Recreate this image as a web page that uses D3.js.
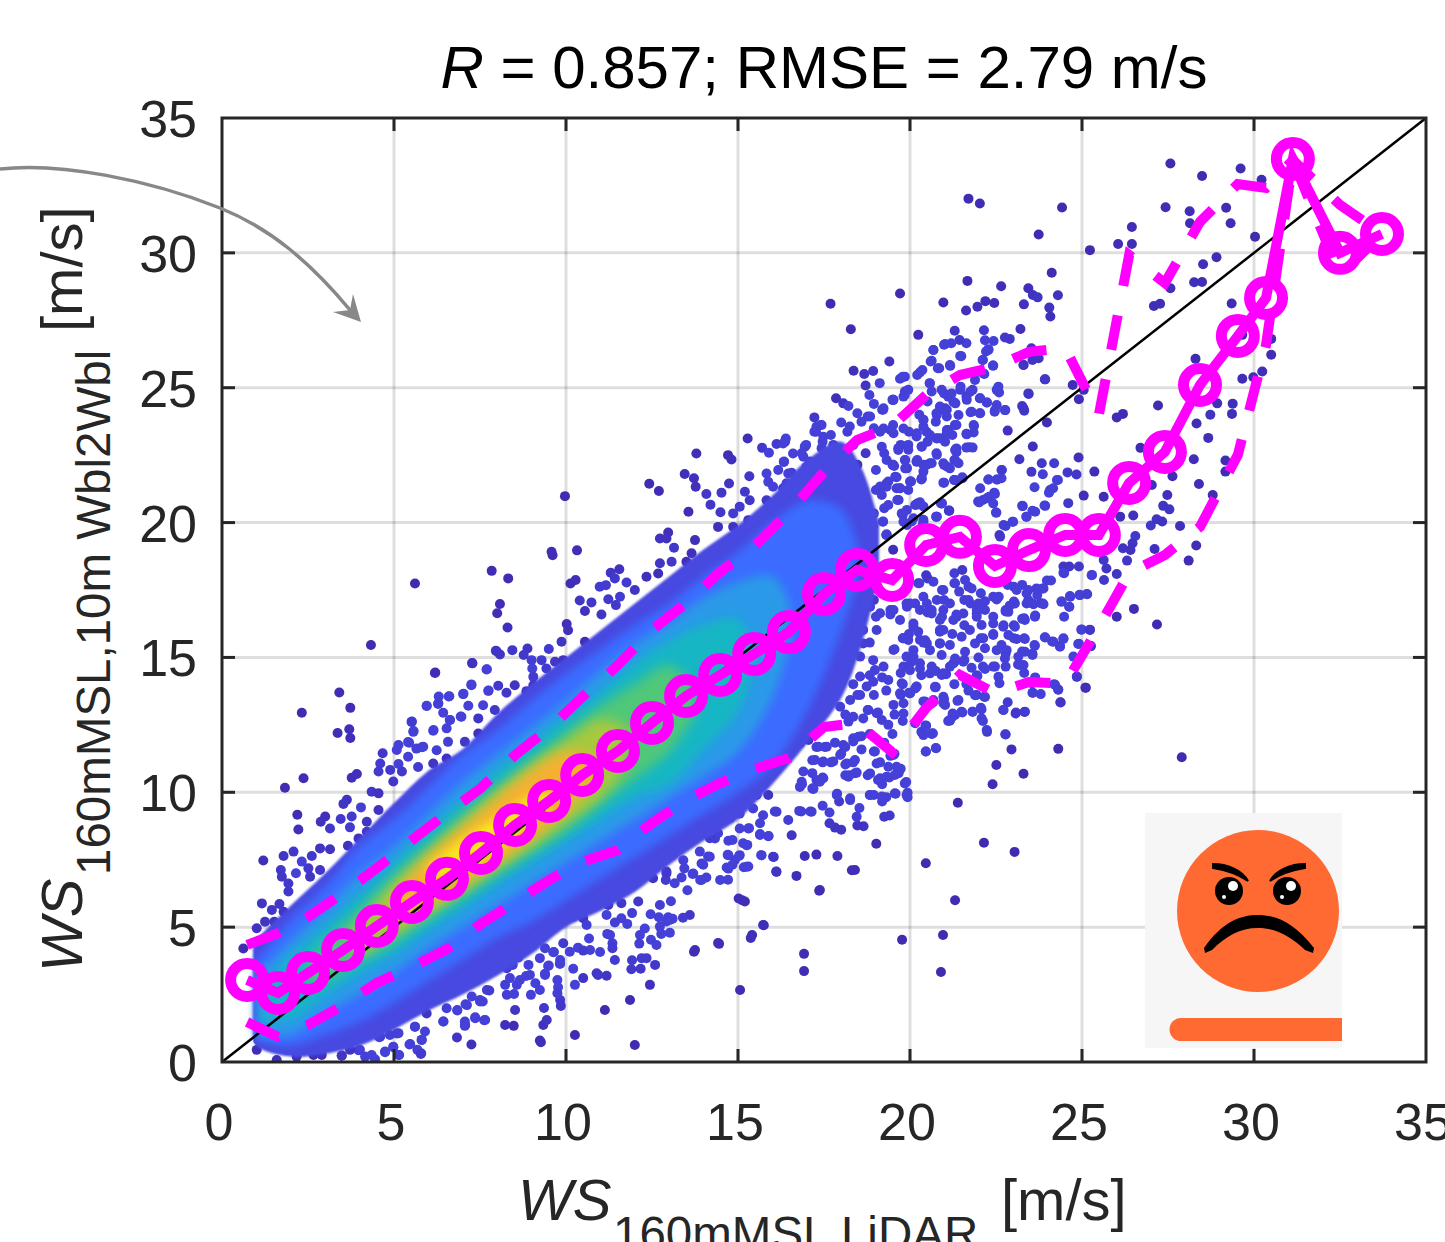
<!DOCTYPE html>
<html><head><meta charset="utf-8">
<script src="https://cdn.jsdelivr.net/npm/d3@7"></script>
<style>html,body{margin:0;padding:0;background:#fff;overflow:hidden}svg{display:block}text{font-family:"Liberation Sans",Arial,sans-serif}</style>
</head><body><div id="c"></div>
<script>
// ---- data (m/s) ----
const xTicks=[0,5,10,15,20,25,30,35];
const yTicks=[0,5,10,15,20,25,30,35];
const binX=[0.73,1.63,2.5,3.52,4.5,5.52,6.54,7.53,8.52,9.51,10.47,11.51,12.5,13.49,14.48,15.47,16.48,17.5,18.46,19.48,20.47,21.45,22.47,23.46,24.51,25.49,26.37,27.41,28.43,29.53,30.35,31.13,32.5,33.72];
const meanY=[3.04,2.56,3.3,4.15,5.04,5.93,6.79,7.75,8.79,9.68,10.64,11.53,12.57,13.57,14.35,15.13,15.94,17.35,18.24,17.87,19.17,19.47,18.39,18.98,19.54,19.54,21.47,22.62,25.1,26.92,28.33,33.48,30.0,30.7];
const upperY=[4.34,4.78,5.38,6.27,7.19,8.23,9.23,10.16,11.38,12.38,13.53,14.72,16.02,17.02,18.17,19.13,20.39,21.88,23.06,23.58,24.73,25.47,25.77,26.33,26.47,23.99,29.92,28.88,31.15,32.55,32.41,33.44,31.78,30.7];
const lowerY=[1.48,0.93,1.37,2.11,2.93,3.52,4.19,5.12,5.93,6.75,7.42,7.86,8.86,9.71,10.34,10.86,11.27,12.42,12.57,11.49,13.13,14.35,13.68,14.09,14.02,16.13,18.13,18.8,19.84,22.51,26.59,33.44,29.18,30.7];
// density bands: [x, low, high]
const bandViolet=[[0.9,1.2,4.2],[1,0.6,4.5],[2,0.2,5.8],[3,0.3,7],[4,0.6,8.3],[5,1.2,9.6],[6,1.9,10.8],[7,2.5,11.6],[8,3.2,12.9],[9,4,14],[10,5,15],[11,5.6,16],[12,6.3,17],[13,7.3,18],[14,8.2,19],[15,9,19.9],[16,10.3,21],[17,11.8,22.3],[18,13.5,23],[18.6,15.5,22],[19.1,18,20]];
const bandBlue=[[1,0.8,3.8],[2,0.6,5.3],[3,1,6.5],[4,1.5,8],[5,2.2,9],[6,3,10.2],[7,3.8,11.4],[8,4.6,12.3],[9,5.2,13.4],[10,6,14.4],[11,6.8,15.3],[12,7.6,16.2],[13,8.4,17],[14,9.2,18],[15,10,18.9],[16,11,20],[17,13,20.8],[18,16,20.5],[18.5,18,19]];
const bandSky=[[1,1,3.2],[2,1,4.5],[3,1.8,5.7],[4,2.5,7],[5,3.3,8],[6,4.2,9.2],[7,5,10.4],[8,5.8,11.4],[9,6.6,12.4],[10,7.4,13.4],[11,8.2,14.5],[12,9,15.5],[13,9.8,16.3],[14,10.6,17.2],[15,11.5,17.8],[16,13.5,18],[16.5,15.5,17]];
const bandTeal=[[1.2,1.6,2.6],[2,1.6,3.9],[3,2.5,5],[4,3.3,6.2],[5,4,7.4],[6,4.9,8.6],[7,5.7,9.7],[8,6.6,10.8],[9,7.4,11.8],[10,8.2,12.8],[11,9,13.7],[12,9.8,14.8],[13,10.3,15.6],[14,11.6,16.2],[15,13,16.4],[15.5,15,15]];
const bandGreen=[[2.5,2.8,3.6],[3,3,4.4],[4,3.8,5.6],[5,4.5,6.9],[6,5.4,8],[7,6.2,9.2],[8,7,10.2],[9,7.8,11.2],[10,8.6,12.2],[11,9.6,13.2],[12,10.5,14],[13,11.5,14.7],[13.8,13,13.8]];
const bandLime=[[3.8,4.1,4.9],[4,4,5.2],[5,4.7,6.6],[6,5.5,7.8],[7,6.3,8.9],[8,7.2,10],[9,8,11],[10,8.9,11.9],[11,9.8,12.7],[11.8,11,12.4]];
const bandOrange=[[5,5.2,6.2],[6,5.8,7.6],[7,6.6,8.7],[8,7.4,9.8],[9,8.3,10.8],[10,9.3,11.5],[10.8,10.4,11.3]];
const bandYellow=[[6,6.7,7.3],[7,7.1,8.3],[8,7.8,9.1],[9,8.9,9.9],[9.5,9.4,10.1]];
const bandColors=["#4648e0","#3a6cff","#2a9ae8","#12b6c4","#50c878","#a8c83c","#f5b030","#f8e61e"];
// individual dots around the cloud
const dotsXY=[[27.57,33.31],[28.49,32.85],[29.61,33.13],[30.22,32.71],[27.43,31.69],[28.13,31.54],[28.14,31.1],[29.19,31.67],[29.32,31.1],[30.03,30.6],[26.45,30.96],[26.05,30.33],[26.45,30.33],[25.23,30.1],[24.42,31.68],[21.7,32.01],[22.03,31.83],[23.74,30.68],[28.91,29.84],[28.52,29.58],[28.26,28.91],[28.49,28.92],[27.57,28.69],[27.09,28.03],[27.27,28.11],[29.35,28.12],[24.12,29.26],[21.67,28.96],[22.65,28.76],[23.44,28.69],[23.57,28.44],[23.71,28.35],[24.3,28.43],[23.31,28.09],[24.05,27.97],[24.08,27.64],[22.45,28.14],[22.19,28.21],[21.96,28],[21.63,27.86],[20.97,28.16],[19.71,28.49],[17.69,28.11],[18.28,27.17],[20.24,26.96],[21.3,27.11],[22.15,27.13],[23.21,27.18],[22.76,26.86],[22.9,26.81],[22.18,26.76],[22.43,26.73],[21.64,26.65],[21.44,26.77],[21.2,26.65],[20.99,26.59],[20.68,26.4],[22.28,26.43],[22.21,26.34],[21.49,26.17],[22.12,26.03],[19.4,25.97],[22.41,25.82],[21.17,25.81],[20.81,25.72],[20.63,26],[20.36,25.66],[20.21,25.47],[18.93,25.62],[18.67,25.51],[18.36,25.63],[19.71,25.33],[19.85,25.41],[19.12,25.17],[18.71,25.08],[22.16,25.51],[23.92,25.31],[23.3,25.84],[23.53,26.46],[23.74,26.09],[23.56,26.03],[24.73,25.1],[25.05,24.92],[24.91,24.57],[29.66,25.33],[29.98,25.39],[30.24,25.6],[30.5,26.22],[30.5,26.81],[29.66,26.96],[28.3,26.07],[28.93,24.42],[29.38,24.41],[27.21,24.34],[29.36,24.03],[28.73,24],[28.33,23.67],[28.67,23.14],[26.19,24.03],[26.01,23.9],[23.98,23.71],[22.84,23.41],[23.45,24.77],[22.57,25.04],[22.59,24.82],[23.26,24.32],[23.32,24.15],[22.77,24.17],[22.46,24.11],[22.52,24.36],[22.24,24.45],[22.03,24.61],[22.03,24.05],[21.76,24.09],[21.85,23.62],[21.85,23.34],[21.64,23.29],[21.82,22.78],[21.64,22.78],[21.35,22.75],[21.35,22.61],[23.57,22.82],[23.18,22.35],[24.9,22.41],[26.7,22.77],[28.25,22.35],[29.17,22.3],[29.17,21.89],[27.63,21.72],[28.4,21.43],[27.03,21.39],[28.8,21.02],[27.48,21.02],[27.36,20.62],[27.54,20.49],[27,19.89],[27.17,20.12],[27.33,20.04],[27.85,19.87],[28.32,19.15],[28.1,18.59],[27.11,19.02],[26.55,19.5],[26.47,19.23],[26.41,18.98],[26.19,19.05],[26.31,18.59],[25.63,18.61],[25.71,18.3],[25.64,17.87],[26.01,18.09],[25.29,18.06],[24.91,18.37],[24.63,18.37],[24.46,18.37],[24.48,18.12],[23.98,17.85],[24.1,17.85],[23.86,17.56],[25.15,17.34],[24.93,17.32],[24.66,17.25],[24.63,16.88],[24.4,17.07],[26.51,16.8],[26.01,16.51],[23.83,22.2],[24.19,22.2],[23.53,21.88],[23.86,21.79],[24.58,21.86],[24.84,21.78],[25.36,21.89],[24.3,21.58],[24.16,21.27],[24.04,21.11],[23.62,21.31],[25.05,21],[25.63,20.96],[22.28,21.6],[22.04,21.27],[22.66,21.95],[22.66,21.64],[22.54,21.6],[21.52,21.68],[21.29,21.58],[20.99,21.48],[22.45,21.11],[22.3,20.96],[22.12,20.84],[21.98,20.78],[22.51,20.37],[23.26,20.62],[23.93,20.62],[23.56,20.44],[23.38,20.22],[24.6,20.72],[22.98,20.03],[22.78,19.87],[22.6,19.54],[26.11,20.22],[26.49,20.26],
[27.18,16.22],[24.98,16.03],[25.23,16.03],[23.92,15.75],[24.13,15.59],[24.36,15.42],[24.46,15.71],[24.91,15.51],[25.26,15.42],[24.75,15.03],[24.85,14.29],[25.1,13.88],[24.37,13.34],[24.19,14.01],[24.31,13.8],[23.64,14.26],[23.56,14.05],[23.56,13.69],[23.8,13.64],[22.84,13.34],[22.72,13.05],[23.08,12.96],[23.33,12.98],[22.78,12.14],[22.95,11.59],[24.31,11.61],[27.9,11.3],[22.51,11.01],[23.3,10.69],[22.4,10.3],[21.39,9.61],[22.15,8.13],[23.04,7.79],[20.46,7.37],[21.31,6],[20.96,4.71],[19.77,4.53],[20.9,3.34],[19.02,8.09],[18.31,7.11],[17.89,7.64],[17.28,7.69],[16.94,7.64],[17.36,6.35],[16.92,4.01],[16.92,3.37],[20.46,11.51],[20.75,11.64],[19.25,9.09],[19.41,9.14],[18.65,8.74],[18.47,8.77],[18,8.61],[17.82,8.69],[17.66,8.85],[18.53,9.42],[18.45,9.09],[18.26,9.71],[17.94,9.66],[17.88,9.95],[17.66,9.25],[17.46,9.5],[17.1,9.29],[16.84,9.29],[19.93,9.82],[19.93,9.98],[19.58,9.95],[19.31,9.82],[19.19,9.66],[18.83,9.9],[18.95,9.9],[19.89,10.38],[19.67,10.71],[19.73,10.87],[19.61,10.95],[19.4,10.55],[19.19,10.3],[19.07,10.46],[18.77,10.63],[18.41,10.71],[18.24,10.63],[18.12,10.63],[17.46,10.55],[17.28,10.46],[17.16,10.71],[17.16,10.14],[16.86,10.3],[19.55,11.43],[19.43,11.35],[19.13,11.11],[18.95,11.51],[18.35,11.11],[18.12,11.03],[18,11.43],[17.7,11.11],[17.46,11.11],[17.16,11.19],[17.28,11.68],[17.52,11.68],[17.82,11.84],[18.12,11.68],[18.59,11.59],[18.59,12.08],[18.35,12],[19.25,11.84],[18.83,12.16],[20.33,12.24],[20.63,12.16],[20.45,12.48],[19.49,12.16],[19.55,12.88],[19.79,12.64],[19.07,12.96],[18.77,13.05],[20.63,13.29],[20.39,13.37],[21.11,12.64],[21.23,12.8],[21.52,12.96],[21.82,12.99],[22.06,13.13],[22.12,12.64],[22.24,12.24],[20.99,13.45],[21.41,13.42],[21.94,13.61],[22.18,13.53],[21.64,14.01],[21.29,14.01],[20.75,13.9],[20.15,13.85],[19.97,13.69],[19.73,13.61],[19.31,13.77],[18.95,13.61],[18.47,13.61],[18.35,14.01],[18.83,14.34],[19.19,14.26],[19.79,14.01],[19.73,14.42],[20.03,14.82],[20.33,14.34],[20.75,14.5],[21.05,14.38],[21.29,14.82],[21.58,14.9],[21.94,14.34],[22.12,14.66],[22.42,14.66],[22.78,14.66],[23.14,14.74],[23.32,14.42],[22.78,15.14],[23.26,15.22],[23.56,15.14],[22.66,15.46],[23.02,15.71],[23.32,15.71],[23.62,15.46],[22.72,16.19],[23.02,16.19],[22.42,15.87],[22.06,15.71],[21.58,16.19],[21.94,16.51],[22.42,16.51],[22.78,16.76],[23.26,16.43],[23.64,16.55],[23.86,17],[23.56,17],[22.9,16.92],[22.18,17.08],[21.76,17],[21.35,16.59],[20.93,16.51],[20.51,16.67],[20.15,17],[20.87,15.95],[21.23,15.87],[20.39,15.55],[19.97,15.87],[19.55,15.3],[19.01,16.51],[18.59,16.03],[19.79,15.71],[19.43,16.59],[18.24,16.59],[18,16.19],[18.35,15.22],[18.83,15.55],[17.88,14.74],[17.52,14.58],[17.28,14.01],[17.88,13.77],[17.52,13.29],[18.12,12.88],
[21.29,18.12],[21.52,18.24],[20.51,17.93],[20.27,17.75],[20.93,17.5],[21.29,17.75],[21.7,17.62],[22.06,17.38],[22.42,17.25],[22.84,17.69],[23.02,17.62],[23.26,17.69],[23.44,17.5],[23.68,17.56],[23.02,17.07],[23.44,17.13],[23.8,17.01],[21.58,17.13],[20.99,17.13],[20.39,17.25],[19.79,17.38],[19.91,16.88],[18.95,17.13],[18.53,17.01],[19.43,16.76],[20.63,16.76],[21.94,16.76],[22.78,16.7],[23.32,16.45],[19.67,20.84],[19.25,20.53],[18.95,20.34],[19.91,20.47],[20.21,20.71],[20.39,20.1],[19.91,19.91],[19.31,19.54],[20.93,20.71],[21.13,20.44],[20.77,20.22],
[17.85,24.61],[18.06,24.42],[18.21,24.32],[17.22,23.9],[18.47,24.05],[18.77,23.93],[19.19,24.18],[18.59,23.74],[18,23.71],[17.4,23.62],[17.22,23.37],[17.7,23.25],[17.46,23],[18.18,23.37],[18.95,23.5],[18.35,22.88],[16.98,22.88],[19.49,24.55],[19.85,24.86],[20.57,25.17],[20.63,24.86],[20.99,24.79],[21.32,24.42],[21.64,24.67],[21.82,24.92],[21.47,25.04],[21.11,24.67],[20.93,24.18],[20.51,24.49],[20.27,24],[20.75,23.74],[21.11,23.43],[21.35,23.62],[20.39,23.56],[19.97,23.37],[19.43,23.43],[19.73,22.88],[20.51,23],[20.87,23.13],[21.23,23.25],[20.21,22.32],[19.85,22.32],[19.49,22.14],[19.91,22.01],[20.39,22.14],[20.63,22.2],[20.99,22.14],[21.29,22.32],[19.25,22.57],[18.71,22.57],[18.47,22.14],[19.01,21.95],[19.37,21.52],[20.03,21.52],[20.33,21.6],[19.61,21.27],[19.01,21.21],[18.65,20.96],[18.12,20.71],[17.52,22.32],[17.16,22.07],
[5.61,17.74],[7.84,18.21],[8.32,17.93],[8.08,16.98],[8,16.64],[8.3,16.11],[9.97,20.98],[9.58,18.92],[9.61,18.79],[10.32,18.97],[10.13,17.74],[10.28,17.87],[11.3,18.14],[11.55,18.27],[11.42,17.93],[10.98,17.62],[11.16,17.68],[11.76,17.78],[10.4,17.11],[10.74,17.04],[10.55,16.72],[11.03,16.59],[11.23,17.16],[11.57,17.25],[11.45,16.94],[10.02,16.24],[10.06,16.01],[9.87,15.58],[10.55,15.58],[9.5,15.31],[8.88,15.33],[8.44,15.27],[7.98,15.23],[8.08,15.11],[8.77,15.09],[7.27,14.79],[7.69,14.55],[6.19,14.42],[9,14.9],[9.02,14.59],[9.05,14.28],[9.29,14.9],[9.43,14.59],[9.68,14.84],[9.92,14.9],[7.25,13.97],[7.74,13.76],[8.03,13.95],[8.27,13.69],[8.51,13.97],[8.85,13.75],[9.05,13.97],[9.39,13.91],[7.01,13.64],[6.59,13.55],[6.3,13.55],[5.95,13.21],[6.28,13.27],[7.16,13.21],[7.59,13.23],[6.43,12.95],[6.62,12.68],[6.96,12.8],[7.45,12.74],[7.93,13.05],[8.22,12.68],[8.56,12.86],[5.51,12.61],[5.56,12.24],[6.14,12.28],[6.53,12.37],[5.41,11.86],[5.65,11.62],[5.85,11.69],[6.24,11.56],[6.57,11.87],[7.06,11.87],[7.45,12.18],[5.41,11.32],[5.7,10.94],[6.14,11.07],[6.53,11.25],[6.91,11.07],
[12.42,21.44],[12.7,21.17],[13.45,21.8],[13.79,22.56],[13.72,21.64],[13.77,21.33],[14.71,22.5],[14.81,22.34],[14.74,21.45],[14.08,21.06],[14.52,21.11],[14.2,20.66],[14.49,20.38],[13.56,20.4],[15.28,23.12],[15.7,22.77],[15.9,22.59],[16.12,22.91],[16.39,23.12],[16.31,22.93],[15.33,21.72],[15.83,21.82],[16.17,21.95],[16.33,22.25],[16.46,21.82],[15.2,21.14],[15.88,21.51],[16.02,21.33],[15.83,20.83],[15.34,20.83],[15.05,20.59],[14.86,20.34],[12.97,19.63],[12.73,19.41],[12.92,19.41],[13.14,19.07],[13.75,19.35],[13.65,18.86],[12.73,18.49],[13.07,18.55],[13.5,18.55],[12.34,17.99],[12.68,18.11],[12,17.5],[14.42,19.84],[14.86,19.84],[15.3,20.09],[15.73,20.22],[16.6,22.56],[16.9,22.44],[17.28,23.55],[17.48,23.18],[16.99,22.07],[16.31,21.27],[16.94,22.81],
[16.7,6.9],[16.12,7.05],[16.02,7.61],[15.68,7.67],[15.25,7.24],[15.05,7.67],[14.72,7.67],[14.72,7.17],[16.56,8.41],[17.14,9.28],[16.78,9.31],[15.88,8.37],[15.64,8.45],[15.3,8.66],[15.25,8.04],[15.05,8.66],[14.72,8.2],[14.33,8.29],[14.18,7.61],[13.94,7.36],[13.7,6.99],[12.92,6.99],[13.41,7.48],[12.92,7.73],[16.46,8.97],[16.12,9.28],[15.73,9.15],[15.44,9.4],[15.3,9.71],[15.05,9.21],[14.76,9.34],[17.19,10.12],[16.8,10.2],
[4.33,15.46],[7.96,15.25],[7.28,14.78],[7.7,14.56],[6.2,14.44],[3.41,13.7],[2.32,12.95],[3.73,13.13],[3.36,12.2],[3.7,12.34],[3.73,12.01],[2.37,10.52],[1.83,10.17],[3.77,10.54],[3.92,10.68],[4.67,11.45],[5.13,11.75],[5.08,11.57],[5.44,11.84],[5.81,11.67],[5.57,12.27],[5.52,12.62],[6.15,12.31],[5.95,13.2],[6.29,13.3],[6.61,13.56],[7.02,13.65],[7.25,14],[7.75,13.77],[6.94,12.81],[6.63,12.68],[4.6,11.07],[4.55,10.77],[4.89,10.83],[5.13,11.05],[5.23,10.77],[4.98,10.4],[4.35,10.02],[4.55,9.96],[3.63,9.72],[3.53,9.57],[4.04,9.44],[4.55,9.34],[2.19,9.17],[2.22,8.62],[3,9.1],[2.87,8.91],[3.45,9.01],[3.14,8.66],[3.77,9.1],[3.72,8.7],[4.21,8.91],[3.97,8.29],[4.21,8.54],[3.66,8.02],[3.14,7.89],[2.08,7.8],[1.79,7.64],[1.2,7.47],[2.85,7.92],[2.61,7.64],[2.32,7.43],[1.71,7.12],[1.74,6.87],[1.93,6.62],[2.15,7],[2.51,7.18],[2.85,7.12],[1.16,5.88],[1.67,5.86],[1.45,5.64],[1.93,6.32],[2.56,6.87],[1.25,5.2],[1.52,5.2],[1.01,4.96],[1.79,5.57],[0.62,4.21],
[6.83,0.91],[7.25,0.65],[7.07,1.37],[7.36,1.62],[7.65,1.56],[5.47,0.67],[5.79,0.32],[5.81,0.82],[5.15,0.26],[4.98,0.57],[4.74,0.39],[4.45,0.1],[4.16,0.2],[3.97,0.44],[3.48,0.23],[2.9,0.26],[2.66,0.26],[5.08,1.06],[4.6,0.94],[5.61,1.31],[6.44,1.5],[6.84,1.93],[7.7,2.67],[7.5,2.24],[7.12,2.11],[6.53,1.99],[5.95,1.8],[1.06,0.81],[1.01,0.45],[1.59,0.07],[2.17,0.2],[1.88,0.45],
[12,0.63],[10.26,1],[9.24,0.8],[8.23,1.37],[8.52,1.93],[9.83,2.3],[11.13,1.93],[11.86,2.3],[12.44,2.86],[12.59,3.6],[10.93,3.23],[10.26,2.86],[9.24,2.67],[15.06,2.67],[14.42,4.41],[13.75,4.15],[15.73,5.08],[15.41,4.71],[15.12,6],[17.38,6.38],[18.4,7.12],[11.42,3.78],[12.15,4.71],[13.02,5.27],[12.73,5.82],[13.6,5.45],[14.48,6.75],[14.91,7.49],[13.9,6.75],[11.28,4.71],[10.7,4.15],[9.83,3.78],[8.95,3.23],[8.23,2.86],[7.5,2.3],
[15.32,8.67],[15.64,8.42],[15.89,8.38],[15.15,8.11],[15.27,8.05],[14.84,8.23],[14.7,7.68],[15.03,7.64],[15.68,7.67],[16.04,7.6],[16.11,7.06],[14.67,7.21],[14.84,7.31],[15.17,7.22],[15.3,7.25],[14.71,6.76],[14.08,6.84],[13.94,6.75],[13.68,6.97],[13.44,7.18],[13.36,6.84],[13.53,6.37],[13.05,5.96],[13.16,6.63],[12.9,6.75],[15.02,6.06],[15.2,5.95],[13.4,5.35],[13.1,5.31],[12.97,5.37],[12.92,5.21],[12.7,5.37],[12.73,5.02],[13.02,4.79],[12.77,4.75],[12.46,5.48],[12.29,4.95],[11.92,5.52],[11.78,5.12],[11.61,5.33],[11.42,5.17],[11.18,5.45],[12.47,4.53],[12.63,4.34],[12.13,4.39],[11.2,4.75],[10.67,4.58],[11.35,4.4],[11.35,4.22],[10.99,4.08],[10.35,4.24],[10.5,4.13],[10.11,4.09],[9.65,4.08],[13.72,4.09],[14.45,4.38],[15.37,4.6],[15.75,5.07],[11.92,3.77],[12.2,3.85],[12.34,3.85],[11.9,3.44],[12.17,3.46],[10.21,3.46],[9.82,3.64],[9.48,3.56],[9.39,3.23],[10.89,3.29],[11.18,3.2],[10.5,3.11],[14.76,9.04],[15.64,8.85],[15.05,9.72],[15.54,9.9],[15.88,9.9],[16.07,9.29],[14.42,8.48],[14.18,8.3],[13.89,7.8],[14.13,7.62],[13.99,7.31],[12.92,7.06],[12.53,6.81],[12.15,7],[11.9,7.37],[12.1,5.95],[11.61,5.89],[11.23,5.82],[10.69,5.82],[10.21,5.39],[10.5,5.33],[10.6,5.08],[9.92,4.4],
[8.48,1.34],[9.27,0.73],[9.34,1.37],[9.44,1.56],[9.36,2],[9.85,2.08],[8.98,2.49],[9.75,3.04],[9.77,2.77],[9.75,2.55],[9.39,3.27],[9.5,3.58],[9.11,2.92],[9.83,3.64],[9.63,4.07],[8.28,2.49],[8.49,2.52],[7.58,2.24],[7.77,2.65],[7.62,1.55],[7.36,1.66],[7.06,1.5],[7.06,1.34],[7.08,2.14],[7.26,2.43],[6.84,1.91],[6.43,1.5],[5.9,1.13],[5.8,0.82],[5.45,0.65],[5.68,0.45],[5.78,0.3],[5.13,0.26],[4.98,0.55],[5.61,1.31],[5.13,1.07],[4.88,1],[4.57,0.92],[4.74,0.36],[4.35,0.26],[4.01,0.45],[3.72,0.45],[3.48,0.24],[8.57,2.86],[8.84,3.19],[8.66,3.04],[8.37,3.11],[8.28,3.48],[8.45,3.6],[8.91,3.6],[8.61,3.88],[8.86,4.22],[9.24,3.85],[9.39,4.22],
[20.73,13.89],[20.76,11.63],[20.46,11.51],[20.66,12.19],[20.39,12.19],[20.46,12.46],[20.15,12.56],[21.16,12.68],[21.31,12.87],[20.97,13.54],[21.02,13.24],[20.68,13.42],[20.44,13.36],[20,13.67],[19.76,14.04],[20.19,13.92],[19.71,13.67],[19.81,13.3],[19.52,13.24],[19.56,10.64],[19.85,10.33],[19.56,9.96],[19.9,9.9],[19.32,10.58],[19.13,10.52],[18.84,10.7],[18.98,11.51],[19.03,11.07],[19.52,11.38],[19.37,10.95],[18.45,10.73],[18.21,10.58],[18.4,11.2],[18.16,11.07],[18.5,12.06],[18.35,11.88],[18.06,11.75],[17.97,11.38],[17.77,11.14],[17.48,11.14],[17.24,11.2],[17.48,10.52],[17.38,10.39],[17.19,10.15],[16.85,10.39],[16.9,10.77],[17.87,9.9],[18.26,9.78],[18.84,9.9],[19.18,9.84],[17.34,11.69],[17.58,11.69],[17.05,11.94],[16.8,11.82],[19.37,12.5],[19.18,12.68],[19.03,12.93],[18.79,13.05],[18.35,12.8],[18.21,12.62],[18.64,12.74],[18.55,16.98],[18.84,16.88],[19.13,16.64],[19.52,16.76],[19.9,17],[20.49,17],[20.97,16.76],[21.36,16.51],[20.87,16.02],[20.1,16.14],[19.71,16.39],[19.03,16.02],[18.64,16.02],[18.26,16.51],[17.97,16.39],[19.81,15.71],[19.52,15.28],[18.64,15.52],[18.55,15.03],[18.93,14.9],[19.23,14.66],[19.37,14.16],[18.98,14.53],[19.81,14.66],[20.1,15.03],[20.49,15.52],[20.87,15.52],[21.26,14.78],[20.97,14.41],[20.58,14.41],[20.29,14.78],[19.95,15.65],[20.29,15.65],[18.06,15.52],[17.87,15.28],[18.26,15.77],[17.77,16.02],[17.72,15.71],[18.06,15.15],[17.72,14.78],[18.55,14.29],[18.93,14.1],[18.74,13.92],[18.55,13.61],[18.26,13.42],[17.97,13.17],[17.58,13.42],[17.77,13.67],[17.97,14.29],[17.58,14.35],[17.09,13.55],
[18.82,24.73],[18.95,24.4],[19.22,24.18],[19.51,24.55],[19.85,24.73],[18.84,23.93],[17.43,23.62],[17.27,23.37],[16.37,23],[16.95,22.82],[16.85,22.57],[16.34,22.26],[16.56,21.85],[17.09,22.26],[17.43,22.76],[17.77,22.88],[18.25,23.56],[19.13,23.37],[19.51,23.62],[20.39,23.81],[20.77,24.05],[21.07,24.18],[21.31,23.62],[21.07,23.31],[20.77,23.13],[20.48,23.37],[20.19,23.19],[19.66,22.76],[19.95,22.7],[20.34,22.82],[20.77,22.57],[21.07,22.08],[21.31,22.32],[20.19,22.26],[19.9,22.02],[20.48,22.14],[19.51,22.14],[19.61,21.68],[19.32,21.46],[20.02,21.52],[20.34,21.64],[20.97,21.48],[21.31,21.58],[19.13,21.34],[19.63,20.84],[19.71,21.27],[19.95,21.21],[20.19,20.66],[20.39,20.6],[20.92,20.72],[21.14,20.45],[19.79,20.28],[20.05,20.04],[20.39,20.04],[20.76,20.22],[19.22,20.04],[19.32,19.57],[19.51,18.99],[18.93,19.85],[18.74,20.66],[18.64,20.1],[16.41,21.46],[16.61,21.09],[16.3,20.96],
[20.68,26.4],[21.02,26.62],[21.46,26.18],[19.79,25.41],[20.29,25.57],[20.6,25.97],[20.85,25.72],[21.16,25.84],[20.58,25.16],[20.92,24.92],[21.21,24.79],[21.46,24.92],[21.75,24.85],[21.65,24.55],[21.26,24.48],[21.02,24.24],[20.78,23.99],[21.07,23.93],[21.41,23.99],[21.79,24.11],[22.04,24.05],[22.47,24.17],[22.76,24.17],[22.23,24.45],[22.04,24.61],[22.52,24.92],[21.89,25.29],[22.13,25.53],[22.42,25.82],[22.11,26.03],[22.28,26.4],[23.3,25.84],[23.93,25.31],[23.44,24.79],[23.3,24.24],[22.67,21.95],[22.52,21.6],[22.28,21.6],[22.47,21.06],[22.23,20.9],[22.01,20.75],[22.42,20.71],[22.5,20.37],[24.27,21.58],[24.07,21.21],[23.91,20.63],[23.28,20.61],[23.64,20.4],[23.39,20.22],[23,20.03],[22.72,19.91],[22.62,19.48],[20.9,20.71],[21.14,20.44],[20.78,20.22],[20.37,19.91],[20.29,20.75],[20.15,20.65],[19.76,20.34],[19.81,20.03],[20.1,20.16],[19.32,19.54],[19.21,20.03],[19.37,20.65],[19.18,21.02],[19.32,21.33],[19.71,21.27],[20,21.52],[20.34,21.62],[19.57,21.7],[21.28,21.58],[21.53,21.64],[20.39,21.89],[20.2,22.26],[19.86,22.32],[19.86,22.01],[19.54,22.1],[20.58,22.2],[20.78,22.51],[20.97,22.2],[21.16,22.01],[21.41,22.2],[21.31,22.69],[21.73,22.79],[21.02,23],[20.78,23.12],[20.34,22.81],[19.95,22.88],[19.66,22.69],[19.32,22.32],[19.18,22.81],[21.31,23.62],[21.07,23.43],[21.65,23.27],[21.86,23.58],[20.58,23.25],[20.2,23.31],[19.81,23.49],[19.52,23.31],[19.23,23.49],[20.39,23.8],[20.87,24.3],[19.52,24.55],[19.81,24.67],[19.23,24.24],[19.95,24.92],
[25.28,18.05],[24.46,18.14],[23.88,17.56],[23.7,17.31],[24.65,17.28],[24.94,17.31],[25.14,17.35],[24.41,17.07],[24.63,16.88],[24.48,16.51],[23.88,16.97],[23.63,16.51],[23.34,16.39],[23.05,17],[23.39,17],[23.59,16.97],[23.39,17.37],[23.1,17.5],[22.86,16.69],[22.58,17.25],[22.52,17.15],[21.79,17.56],[21.6,17.87],[21.31,17.75],[20.68,17.81],[20.24,17.75],[20.47,18.05],[20.97,17.5],[21.43,17.44],[20.78,17.13],[21.16,17],[21.7,17.13],[21.99,17],[22.18,16.76],[21.94,16.63],[21.55,16.63],[21.26,16.39],[20.87,16.39],[20.63,16.63],[20.29,16.76],[20,17],[20.1,16.26],[20.24,15.95],[19.81,15.71],[20.44,15.64],[20.87,15.52],[21.16,15.46],[21.5,15.77],[21.74,16.02],[20.97,16.02],[22.08,16.2],[22.42,16.26],[22.71,16.14],[23.05,16.14],[22.86,15.83],[22.13,15.71],[21.89,15.52],[22.42,15.83],[23.1,15.68],[23.34,15.68],[23.63,15.43],[23.93,15.74],[24.17,15.58],[24.46,15.68],[24.36,15.4],[24.89,15.5],[25.25,15.42],[24.99,16.04],[25.23,16.02],[23.34,15.21],[23.56,15.09],[23.15,15.03],[22.52,15.27],[22.18,15.34],[21.99,15],[21.6,15.21],[21.31,14.96],[21.55,14.84],[20.92,15.09],[20.58,15.27],[20.1,15.27],[19.9,15.03],[22.81,15.27],[22.76,14.96],[22.47,14.66],[22.18,14.57],[21.79,14.62],[21.16,14.66],[20.63,14.66],[20.29,14.59],[20,14.53],[20.92,14.35],[20.73,13.91],[20.19,13.91],[20,13.67],[23.2,14.72],[23.3,14.72],[22.57,14.28],[22.6,14.04],[21.96,14.31],[23.63,14.22],[23.54,14.04],[23.57,13.69],[24.85,14.28],[24.22,13.98],[24.31,13.81],[25.11,13.88],[24.38,13.33],[22.71,13.05],[23.07,12.92],[23.34,12.99],[22.16,13.54],[21.89,13.6],[21.7,13.77],[21.38,13.39],[22.08,13.07],[21.82,12.99],[21.5,12.99],[21.24,12.92],[21.16,12.65],[22.08,12.74],[22.23,12.31],[22.77,12.15],[20.97,13.3],[20.68,13.36],[20.44,13.36],[19.81,12.92],[20.47,12.47],[20.66,12.18],[20.39,12.12]];
const titleParts=["R"," = 0.857; RMSE = 2.79 m/s"];

// ---- layout ----
const W=1445,H=1242;
const x=d3.scaleLinear().domain([0,35]).range([222,1426]);
const y=d3.scaleLinear().domain([0,35]).range([1062,118]);
const ink="#262626";
const svg=d3.select("#c").append("svg").attr("width",W).attr("height",H);
const defs=svg.append("defs");
[1.2,4,5,5,6,6,6,5].forEach((b,i)=>defs.append("filter").attr("id","bl"+i).attr("x","-20%").attr("y","-20%").attr("width","140%").attr("height","140%")
  .append("feGaussianBlur").attr("stdDeviation",b));
defs.append("clipPath").attr("id","plot").append("rect").attr("x",x(0)).attr("y",y(35)).attr("width",x(35)-x(0)).attr("height",y(0)-y(35));

// grid
const grid=svg.append("g").attr("stroke","#000").attr("stroke-opacity",0.13).attr("stroke-width",3);
xTicks.slice(1,-1).forEach(t=>grid.append("line").attr("x1",x(t)).attr("x2",x(t)).attr("y1",y(0)).attr("y2",y(35)));
yTicks.slice(1,-1).forEach(t=>grid.append("line").attr("y1",y(t)).attr("y2",y(t)).attr("x1",x(0)).attr("x2",x(35)));

// cloud: dots first, the solid density bands over them
const plot=svg.append("g").attr("clip-path","url(#plot)");
const px=dotsXY.map(d=>[x(d[0]),y(d[1])]);
const near=px.map(p=>px.filter(q=>Math.hypot(p[0]-q[0],p[1]-q[1])<26).length);
const dotColor=d3.scaleLinear().domain([1,5,12]).range(["#3f2cb0","#4030bc","#4440d8"]).clamp(true);
plot.append("g").selectAll("circle").data(dotsXY).join("circle")
  .attr("cx",d=>x(d[0])).attr("cy",d=>y(d[1])).attr("r",5).attr("fill",(d,i)=>dotColor(near[i]));
const area=d3.area().x(d=>x(d[0])).y0(d=>y(d[1])).y1(d=>y(d[2])).curve(d3.curveCatmullRom);
[bandViolet,bandBlue,bandSky,bandTeal,bandGreen,bandLime,bandOrange,bandYellow].forEach((b,i)=>{
  plot.append("path").attr("d",area(b)).attr("fill",bandColors[i]).attr("filter","url(#bl"+i+")");
});

// 1:1 line
svg.append("line").attr("x1",x(0)).attr("y1",y(0)).attr("x2",x(35)).attr("y2",y(35)).attr("stroke","#000").attr("stroke-width",2.5);

// magenta
const mag="#ff00ff";
const line=d3.line().x((d,i)=>x(binX[i])).y(d=>y(d));
svg.append("path").attr("d",line(upperY)).attr("fill","none").attr("stroke",mag).attr("stroke-width",10).attr("stroke-dasharray","35 30");
svg.append("path").attr("d",line(lowerY)).attr("fill","none").attr("stroke",mag).attr("stroke-width",10).attr("stroke-dasharray","35 30");
svg.append("path").attr("d",line(meanY)).attr("fill","none").attr("stroke",mag).attr("stroke-width",10);
svg.append("g").selectAll("circle").data(meanY).join("circle")
  .attr("cx",(d,i)=>x(binX[i])).attr("cy",d=>y(d)).attr("r",16.5).attr("fill","none").attr("stroke",mag).attr("stroke-width",11);

// emoji inset
const em=svg.append("g");
em.append("rect").attr("x",1145).attr("y",813).attr("width",197).attr("height",235).attr("fill","#f6f6f6");
em.append("circle").attr("cx",1258).attr("cy",911).attr("r",81).attr("fill","#ff6a33");
em.append("path").attr("d","M1342 1018H1181a11.5 11.5 0 0 0 0 23H1342Z").attr("fill","#ff6a33");
em.append("path").attr("d","M1213 864c14 0 29 6 35 17c-10-7-22-11-35-13Z M1305 864c-14 0-29 6-35 17c10-7 22-11 35-13Z").attr("fill","#000").attr("stroke","#000").attr("stroke-width",2);
[[1229,891],[1287,891]].forEach(p=>{
  em.append("circle").attr("cx",p[0]).attr("cy",p[1]).attr("r",14).attr("fill","#000");
  em.append("circle").attr("cx",p[0]+4).attr("cy",p[1]-5).attr("r",5).attr("fill","#fff");
  em.append("circle").attr("cx",p[0]-5).attr("cy",p[1]+6).attr("r",2).attr("fill","#fff");
});
em.append("path").attr("d","M1204 948C1222 922 1240 915 1258 915C1276 915 1294 922 1314 948L1313 953L1305 950C1290 936 1276 928 1258 928C1240 928 1226 936 1212 950L1205 953Z").attr("fill","#000");

// frame + ticks
const fr=svg.append("g").attr("stroke",ink).attr("stroke-width",3);
fr.append("rect").attr("x",x(0)).attr("y",y(35)).attr("width",x(35)-x(0)).attr("height",y(0)-y(35)).attr("fill","none");
xTicks.slice(1,-1).forEach(t=>{
  fr.append("line").attr("x1",x(t)).attr("x2",x(t)).attr("y1",y(0)).attr("y2",y(0)-13);
  fr.append("line").attr("x1",x(t)).attr("x2",x(t)).attr("y1",y(35)).attr("y2",y(35)+13);
});
yTicks.slice(1,-1).forEach(t=>{
  fr.append("line").attr("y1",y(t)).attr("y2",y(t)).attr("x1",x(0)).attr("x2",x(0)+13);
  fr.append("line").attr("y1",y(t)).attr("y2",y(t)).attr("x1",x(35)).attr("x2",x(35)-13);
});
// tick labels
const tl=svg.append("g").attr("fill",ink).attr("font-size",52);
xTicks.forEach(t=>tl.append("text").attr("x",x(t)-3).attr("y",1140).attr("text-anchor","middle").text(t));
yTicks.forEach(t=>tl.append("text").attr("x",197).attr("y",y(t)+19).attr("text-anchor","end").text(t));

// title
const tt=svg.append("text").attr("x",824).attr("y",88).attr("text-anchor","middle").attr("font-size",60).attr("fill","#000");
tt.append("tspan").attr("font-style","italic").text(titleParts[0]);
tt.append("tspan").text(titleParts[1]);

// x label
const xl=svg.append("g").attr("fill",ink);
xl.append("text").attr("x",518).attr("y",1220).attr("font-size",58).attr("font-style","italic").text("WS");
xl.append("text").attr("x",613).attr("y",1250).attr("font-size",47.5).text("160mMSL LiDAR");
xl.append("text").attr("x",1001).attr("y",1220).attr("font-size",58).text("[m/s]");
// y label
const yl=svg.append("g").attr("fill",ink);
yl.append("text").attr("transform","translate(82,972) rotate(-90)").attr("font-size",58).attr("font-style","italic").text("WS");
yl.append("text").attr("transform","translate(110,875) rotate(-90)").attr("font-size",47.5).text("160mMSL,10m Wbl2Wbl");
yl.append("text").attr("transform","translate(82,332) rotate(-90)").attr("font-size",58).text("[m/s]");

// annotation arrow
svg.append("path").attr("d","M0 169C60 162 150 180 220 208C270 228 310 262 350 310").attr("fill","none").attr("stroke","#888").attr("stroke-width",3.5);
svg.append("path").attr("d","M361 322L353 294L350 310L333 312Z").attr("fill","#888");
</script></body></html>
